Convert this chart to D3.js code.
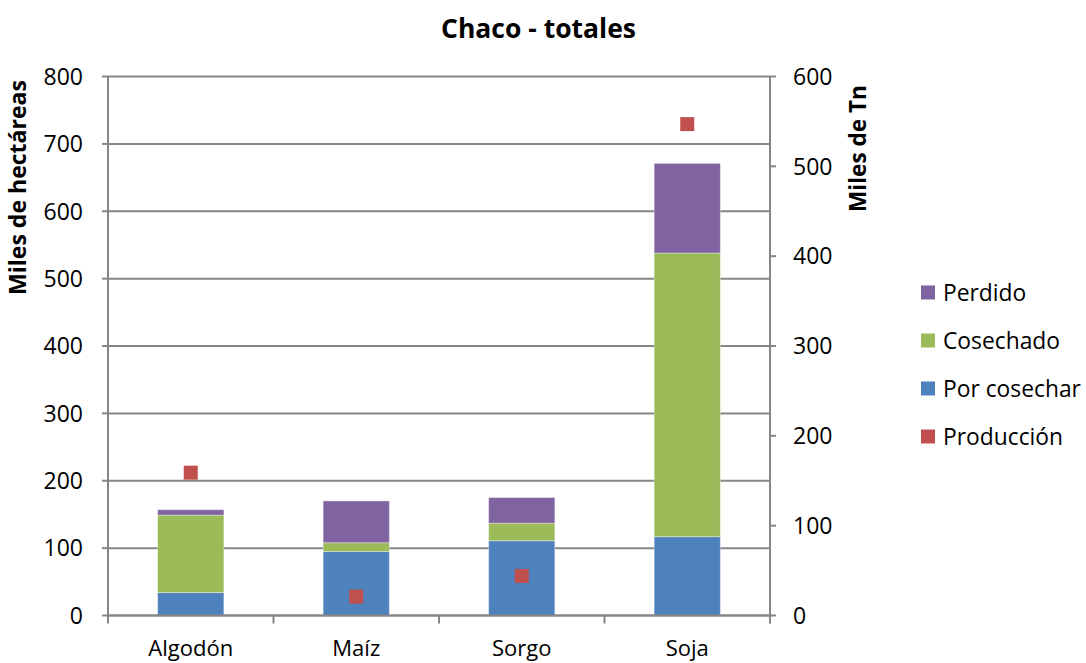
<!DOCTYPE html>
<html><head><meta charset="utf-8">
<script src="https://cdn.jsdelivr.net/npm/d3@7"></script>
<style>body{margin:0;background:#fff;} text{font-family:"Open Sans",sans-serif;fill:#000;}</style>
</head><body><svg id="c" width="1086" height="663"></svg>
<script>
const categories = ["Algodón", "Maíz", "Sorgo", "Soja"];
const porCosechar = [34, 95, 111, 117];
const cosechado = [115, 13, 26, 421];
const perdido = [8, 62, 38, 133];
const produccion = [159, 21, 44, 547];
const leftTicks = [0,100,200,300,400,500,600,700,800];
const rightTicks = [0,100,200,300,400,500,600];
const seriesNames = ["Por cosechar", "Cosechado", "Perdido"];
const legendItems = ["Perdido","Cosechado","Por cosechar","Producción"];
const colors = {"Por cosechar":"#4F81BD","Cosechado":"#9BBB59","Perdido":"#8064A2","Producción":"#C0504D"};

const svg = d3.select("#c");
const L=108, R=770, T=76.5, B=615.5;
const x = d3.scaleBand().domain(categories).range([L,R]).paddingInner(0).paddingOuter(0);
const y = d3.scaleLinear().domain([0,800]).range([B,T]);
const y2 = d3.scaleLinear().domain([0,600]).range([B,T]);
const grid="#868686";

function fit(sel, sample, target, weight){
  const probe = svg.append("text").attr("font-size",20).attr("font-weight",weight||"normal").text(sample);
  const w = probe.node().getComputedTextLength(); probe.remove();
  sel.attr("font-size", 20*target/w);
}

svg.append("g").selectAll("line").data(leftTicks).join("line")
  .attr("x1",L).attr("x2",R).attr("y1",d=>y(d)).attr("y2",d=>y(d))
  .attr("stroke",grid).attr("stroke-width",2);

const rows = categories.map((c,i)=>({cat:c,"Por cosechar":porCosechar[i],"Cosechado":cosechado[i],"Perdido":perdido[i]}));
const stack = d3.stack().keys(seriesNames)(rows);
const bw = x.bandwidth()*0.4;
svg.append("g").selectAll("g").data(stack).join("g").attr("fill",d=>colors[d.key])
  .selectAll("rect").data(d=>d).join("rect")
  .attr("x",d=>x(d.data.cat)+x.bandwidth()/2-bw/2).attr("width",bw)
  .attr("y",d=>y(d[1])).attr("height",d=>y(d[0])-y(d[1]))
  .attr("stroke","rgba(255,255,255,0.35)").attr("stroke-width",1);

const ga = svg.append("g");
ga.append("line").attr("x1",L).attr("x2",L).attr("y1",T).attr("y2",B).attr("stroke",grid).attr("stroke-width",2);
ga.selectAll("line.t").data(leftTicks).join("line").attr("class","t")
  .attr("x1",L-6).attr("x2",L).attr("y1",d=>y(d)).attr("y2",d=>y(d)).attr("stroke",grid).attr("stroke-width",2);
const lt = ga.selectAll("text").data(leftTicks).join("text")
  .attr("x",83).attr("y",d=>y(d)).attr("dy","0.36em").attr("text-anchor","end").text(d=>d);
fit(lt,"800",39.5);

const gr = svg.append("g");
gr.append("line").attr("x1",R).attr("x2",R).attr("y1",T).attr("y2",B+8).attr("stroke",grid).attr("stroke-width",2);
gr.selectAll("line.t").data(rightTicks).join("line").attr("class","t")
  .attr("x1",R).attr("x2",R+6).attr("y1",d=>y2(d)).attr("y2",d=>y2(d)).attr("stroke",grid).attr("stroke-width",2);
const rt = gr.selectAll("text").data(rightTicks).join("text")
  .attr("x",793).attr("y",d=>y2(d)).attr("dy","0.36em").attr("text-anchor","start").text(d=>d);
fit(rt,"600",39.5);

const gx = svg.append("g");
gx.append("line").attr("x1",L).attr("x2",R).attr("y1",B).attr("y2",B).attr("stroke",grid).attr("stroke-width",2);
const bounds = categories.map(c=>x(c)).concat([R]);
gx.selectAll("line.t").data(bounds).join("line").attr("class","t")
  .attr("x1",d=>d).attr("x2",d=>d).attr("y1",B).attr("y2",B+8).attr("stroke",grid).attr("stroke-width",2);
const xt = gx.selectAll("text").data(categories).join("text")
  .attr("x",d=>x(d)+x.bandwidth()/2).attr("y",656).attr("text-anchor","middle").text(d=>d);
fit(xt,"Algodón",85);

svg.append("g").selectAll("rect").data(categories).join("rect")
  .attr("x",d=>x(d)+x.bandwidth()/2-7).attr("y",(d,i)=>y2(produccion[i])-7)
  .attr("width",14).attr("height",14).attr("fill",colors["Producción"]);

const tt = svg.append("text").attr("x",538.5).attr("y",28).attr("dy","0.36em").attr("text-anchor","middle")
  .attr("font-weight","bold").text("Chaco - totales");
fit(tt,"Chaco - totales",195,"bold");
const at1 = svg.append("text").attr("transform","translate(18,187.5) rotate(-90)").attr("dy","0.36em").attr("text-anchor","middle")
  .attr("font-weight","bold").text("Miles de hectáreas");
fit(at1,"Miles de hectáreas",215,"bold");
const at2 = svg.append("text").attr("transform","translate(858,148.5) rotate(-90)").attr("dy","0.36em").attr("text-anchor","middle")
  .attr("font-weight","bold").text("Miles de Tn");
fit(at2,"Miles de Tn",127,"bold");

const lg = svg.append("g").selectAll("g").data(legendItems).join("g")
  .attr("transform",(d,i)=>`translate(921,${292.5+i*48})`);
lg.append("rect").attr("x",0).attr("y",-7).attr("width",14).attr("height",14).attr("fill",d=>colors[d]);
const ltx = lg.append("text").attr("x",22).attr("y",0).attr("dy","0.36em").text(d=>d);
fit(ltx,"Por cosechar",138);
</script></body></html>
